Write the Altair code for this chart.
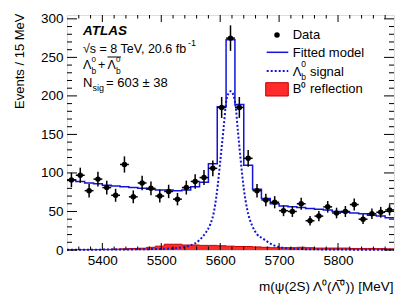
import altair as alt
import pandas as pd

# ---------------- data ----------------
bin_edges = [5340 + 15 * i for i in range(38)]
mass = [5347.5 + 15 * i for i in range(37)]
counts = [91, 97, 77, 92, 81, 71, 111, 69, 87, 80, 70, 76, 66, 81, 89, 94, 106,
          185, 275, 185, 119, 77, 65, 62, 51, 50, 60, 38, 44, 56, 48, 50, 59, 40, 47, 49, 52]
count_err = [9.5, 9.8, 8.8, 9.6, 9.0, 8.4, 10.5, 8.3, 9.3, 8.9, 8.4, 8.7, 8.1, 9.0, 9.4, 9.7, 10.3,
             13.6, 16.6, 13.6, 10.9, 8.8, 8.1, 7.9, 7.1, 7.1, 7.7, 6.2, 6.6, 7.5, 6.9, 7.1, 7.7, 6.3, 6.9, 7.0, 7.2]
model = [91, 89, 87, 86, 84, 83, 82, 81, 80, 79, 78, 78, 77, 78, 82, 88, 112,
         186, 273, 189, 110, 79, 67, 60, 57, 56, 55, 54, 53, 52, 50, 49, 48, 47, 45, 44, 42]
reflection = [0.3, 0.4, 0.5, 0.6, 0.8, 1.2, 1.5, 2.0, 2.3, 3.5, 5.0, 7.5, 7.5, 6.5, 6.5, 6.0, 6.0,
              5.5, 5.0, 4.5, 4.5, 4.0, 3.5, 3.0, 3.0, 3.0, 3.5, 3.0, 2.5, 2.5, 2.5, 2.5, 2.0, 2.0, 2.0, 1.8, 1.5]
sig_mass = [5340, 5400, 5450, 5500, 5530, 5548, 5565, 5575, 5583, 5590, 5596, 5601, 5606, 5610,
            5614, 5618, 5622, 5626, 5630, 5635, 5640, 5646, 5654, 5662, 5672, 5690, 5710, 5750, 5800, 5895]
sig_val = [0.3, 0.5, 0.8, 1.5, 3, 5.5, 13, 22, 33, 52, 85, 122, 160, 192,
           203, 206, 202, 188, 155, 115, 80, 52, 32, 21, 15, 6.5, 2.5, 1.0, 0.6, 0.3]

x_labels = [5400, 5500, 5600, 5700, 5800]
x_minor = [v for v in range(5360, 5895, 20) if v % 100 != 0]
y_labels = [0, 50, 100, 150, 200, 250, 300]
y_minor = [v for v in range(10, 305, 10) if v % 50 != 0]

W, H = 327, 235
FONT = "Liberation Sans"
BLUE = "#1414d8"

df_pts = pd.DataFrame({
    "m": mass, "n": counts,
    "lo": [n - e for n, e in zip(counts, count_err)],
    "hi": [n + e for n, e in zip(counts, count_err)],
    "mlo": [m - 7.5 for m in mass], "mhi": [m + 7.5 for m in mass],
})
df_model = pd.DataFrame({"e": bin_edges, "v": model + [model[-1]]})
df_refl = pd.DataFrame({"e": bin_edges, "v": reflection + [reflection[-1]]})
df_sig = pd.DataFrame({"m": sig_mass, "v": sig_val})

xs = alt.Scale(domain=[5340, 5895], nice=False, zero=False)
ys = alt.Scale(domain=[0, 305], nice=False, zero=False)

X_TITLE = "m(ψ(2S) Λ⁰(Λ̅⁰)) [MeV]"
Y_TITLE = "Events / 15 MeV"

x_axis = alt.Axis(values=x_labels, format="d", ticks=False, domain=False, grid=False,
                  labelFontSize=13.5, labelFont=FONT, labelColor="black", labelPadding=3,
                  labelFlush=False,
                  titleFont=FONT, titleFontSize=13.5,
                  titleFontWeight="normal", titleColor="black", titleAlign="right",
                  titleBaseline="alphabetic", titleX=W - 1, titleY=40, titleAnchor="end")
y_axis = alt.Axis(values=y_labels, format="d", ticks=False, domain=False, grid=False,
                  labelFontSize=13.5, labelFont=FONT, labelColor="black", labelPadding=4,
                  labelFlush=False,
                  titleFont=FONT, titleFontSize=13,
                  titleFontWeight="normal", titleColor="black", titleAngle=270,
                  titleAlign="right", titleBaseline="middle", titleX=-48, titleY=-2,
                  titleAnchor="end")


def X(f):
    return alt.X(f, scale=xs, axis=x_axis, title=X_TITLE)


def Y(f):
    return alt.Y(f, scale=ys, axis=y_axis, title=Y_TITLE)


refl = alt.Chart(df_refl).mark_area(interpolate="step-after", color="#ff2a2a", opacity=1,
                                    line={"color": "#c80000", "strokeWidth": 1}).encode(
    x=X("e:Q"), y=Y("v:Q"))
sig = alt.Chart(df_sig).mark_line(interpolate="monotone", color=BLUE, strokeWidth=2,
                                  strokeDash=[2, 2]).encode(x=X("m:Q"), y=Y("v:Q"))
mod = alt.Chart(df_model).mark_line(interpolate="step-after", color=BLUE, strokeWidth=1.5).encode(
    x=X("e:Q"), y=Y("v:Q"))
ebar_v = alt.Chart(df_pts).mark_rule(color="black", strokeWidth=1.5).encode(
    x=X("m:Q"), y=Y("lo:Q"), y2="hi:Q")
ebar_h = alt.Chart(df_pts).mark_rule(color="black", strokeWidth=1.5).encode(
    x=X("mlo:Q"), x2="mhi:Q", y=Y("n:Q"))
pts = alt.Chart(df_pts).mark_point(filled=True, color="black", size=30, opacity=1, shape="circle").encode(
    x=X("m:Q"), y=Y("n:Q"))


def xticks(vals, length):
    d = pd.DataFrame({"v": vals})
    b = alt.Chart(d).mark_rule(color="black", strokeWidth=1).encode(
        x=X("v:Q"), y=alt.value(H), y2=alt.value(H - length))
    t = alt.Chart(d).mark_rule(color="black", strokeWidth=1).encode(
        x=X("v:Q"), y=alt.value(0), y2=alt.value(length))
    return [b, t]


def yticks(vals, length):
    d = pd.DataFrame({"v": vals})
    l = alt.Chart(d).mark_rule(color="black", strokeWidth=1).encode(
        y=Y("v:Q"), x=alt.value(0), x2=alt.value(length))
    r = alt.Chart(d).mark_rule(color="black", strokeWidth=1).encode(
        y=Y("v:Q"), x=alt.value(W), x2=alt.value(W - length))
    return [l, r]


one = pd.DataFrame({"a": [0]})


def txt(s, x, y, size=13, weight="normal", style="normal", align="left"):
    return alt.Chart(one).mark_text(text=s, font=FONT, fontSize=size, fontWeight=weight,
                                    fontStyle=style, align=align, baseline="alphabetic",
                                    color="black").encode(x=alt.value(x), y=alt.value(y))


def hline(x1, x2, y, color="black", width=1, dash=None):
    kw = dict(color=color, strokeWidth=width)
    if dash:
        kw["strokeDash"] = dash
    return alt.Chart(one).mark_rule(**kw).encode(x=alt.value(x1), x2=alt.value(x2), y=alt.value(y))


ann = [
    txt("ATLAS", 16, 20, size=13.5, weight="bold", style="italic"),
    txt("√s = 8 TeV, 20.6 fb", 16, 37.7, size=12.5),
    txt("-1", 121, 31, size=9),
    txt("Λ", 16, 54, size=12.5),
    txt("0", 24.5, 46.5, size=8),
    txt("b", 24.5, 59, size=8.5),
    txt("+", 31, 54, size=12.5),
    txt("Λ", 40.5, 54, size=12.5),
    hline(40.5, 54, 42),
    txt("0", 49, 46.5, size=8),
    txt("b", 49, 59, size=8.5),
    txt("N", 16, 72, size=13),
    txt("sig", 25.5, 75.5, size=9),
    txt("= 603 ± 38", 39, 72, size=13),
    # legend
    alt.Chart(one).mark_point(filled=True, color="black", size=30, opacity=1).encode(
        x=alt.value(210), y=alt.value(20)),
    txt("Data", 225.7, 24.3),
    hline(199.7, 221.3, 37.3, color=BLUE, width=1.5),
    txt("Fitted model", 225.7, 41.7),
    hline(199.7, 221.3, 56, color=BLUE, width=2, dash=[2, 2]),
    txt("Λ", 225.7, 60.5),
    txt("0", 234.3, 52, size=8.5),
    txt("b", 234.3, 65, size=8.5),
    txt("signal", 243, 60.5),
    alt.Chart(one).mark_rect(fill="#ff2a2a", stroke="#c80000", strokeWidth=1).encode(
        x=alt.value(198.7), x2=alt.value(221.3), y=alt.value(67.7), y2=alt.value(81)),
    txt("B⁰ reflection", 225.7, 77.7),
]

layers = [refl, sig, mod, ebar_v, ebar_h, pts]
layers += xticks(x_labels, 7) + xticks(x_minor, 3.5)
layers += yticks(y_labels, 10) + yticks(y_minor, 5)
layers += ann

chart = alt.layer(*layers).properties(
    width=W, height=H,
    autosize=alt.AutoSizeParams(type="none"),
    padding={"left": 59, "top": 7, "right": 13, "bottom": 48},
).configure_view(stroke="black", strokeWidth=1).configure(background="white")

chart.save("out.html", embed_options={"renderer": "svg", "actions": False})
